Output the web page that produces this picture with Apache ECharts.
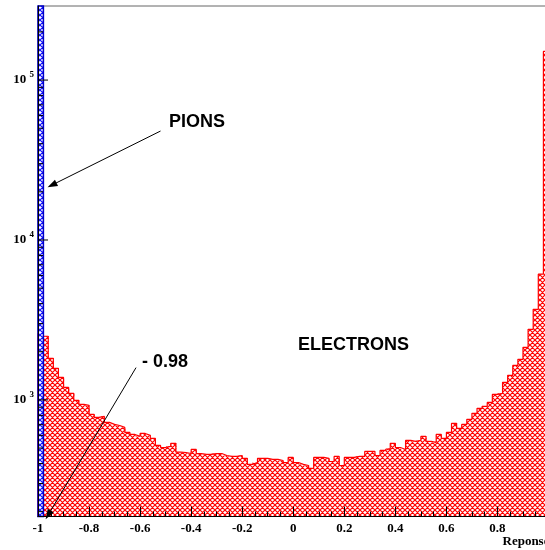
<!DOCTYPE html>
<html>
<head>
<meta charset="utf-8">
<script src="https://cdn.jsdelivr.net/npm/echarts@6/dist/echarts.min.js"></script>
<style>
html,body{margin:0;padding:0;background:#fff;}
#chart{width:545px;height:550px;}
</style>
</head>
<body>
<div id="chart"></div>
<script>
// ---- data ----
const binStart = -1;       // histogram lower edge
const binWidth = 0.02;     // 100 bins over [-1, 1]
const electronCounts = [
  2600, 2500, 1820, 1575, 1383, 1198, 1099, 993, 937, 924,
  811, 777, 788, 723, 703, 692, 673, 626, 608, 591,
  617, 600, 574, 519, 504, 512, 535, 472, 469, 462,
  490, 462, 456, 456, 462, 462, 449, 443, 443, 449,
  431, 395, 406, 431, 431, 425, 425, 418, 406, 437,
  406, 395, 389, 373, 437, 437, 431, 412, 443, 389,
  437, 437, 443, 443, 476, 476, 449, 483, 497, 535,
  504, 490, 558, 550, 558, 591, 550, 542, 608, 574,
  626, 713, 663, 703, 756, 824, 886, 912, 965, 1082,
  1099, 1288, 1424, 1644, 1794, 2133, 2763, 3686, 6110, 151000
];
const pionCounts = [1200000];  // all pions in the first bin (off scale)
const yMin = 186.6, yMax = 290500;
const xTickStep = 0.2;
const yTickValues = [200,300,400,500,600,700,800,900,
  1000,2000,3000,4000,5000,6000,7000,8000,9000,
  10000,20000,30000,40000,50000,60000,70000,80000,90000,
  100000,200000];
const pionArrow = [[-0.520, 48000], [-0.945, 22070]];
const cutArrow = [[-0.616, 1592], [-0.960, 191]];
const labels = {pions: 'PIONS', electrons: 'ELECTRONS', cut: '- 0.98', xTitle: 'Reponse'};

// ---- helpers ----
function hatch(color) {
  const c = document.createElement('canvas');
  c.width = 5; c.height = 5;
  const g = c.getContext('2d');
  g.fillStyle = '#ffffff'; g.fillRect(0, 0, 5, 5);
  g.strokeStyle = color; g.lineWidth = 1.2;
  g.beginPath();
  for (let k = -5; k <= 5; k += 5) {
    g.moveTo(k - 1, -1); g.lineTo(k + 6, 6);
    g.moveTo(k + 6, -1); g.lineTo(k - 1, 6);
  }
  g.stroke();
  return c;
}
const redPattern = {image: hatch('#ff0000'), repeat: 'repeat'};
const bluePattern = {image: hatch('#1010ff'), repeat: 'repeat'};

function binData(counts) {
  return counts.map((v, i) => [binStart + i * binWidth, binStart + (i + 1) * binWidth, v]);
}
function isPow10(v) {
  const l = Math.log10(v);
  return Math.abs(l - Math.round(l)) < 1e-6;
}
function histRender(pattern, stroke) {
  return function (params, api) {
    const v = api.value(2);
    if (!(v > 0)) return null;
    const cs = params.coordSys;
    const p0 = api.coord([api.value(0), v]);
    const p1 = api.coord([api.value(1), v]);
    const bottom = cs.y + cs.height;
    const top = Math.max(p0[1], cs.y);
    return {
      type: 'rect',
      shape: {x: p0[0], y: top, width: p1[0] - p0[0] + (stroke ? 0.3 : 0.6), height: bottom - top},
      style: stroke ? {fill: pattern, stroke: stroke, lineWidth: 1.5} : {fill: pattern}
    };
  };
}
const outline = [[binStart, yMin]];
electronCounts.forEach((v, i) => outline.push([binStart + i * binWidth, v]));
outline.push([binStart + electronCounts.length * binWidth, electronCounts[electronCounts.length - 1]]);

const serif = '"Liberation Serif", "Times New Roman", serif';
const sans = '"Liberation Sans", Arial, Helvetica, sans-serif';

const chart = echarts.init(document.getElementById('chart'), null, {renderer: 'canvas'});
chart.setOption({
  animation: false,
  backgroundColor: '#ffffff',
  grid: {left: 38, right: -3.5, top: 6, bottom: 33.5, show: true, borderColor: '#666', borderWidth: 1,
         backgroundColor: '#fff', containLabel: false, outerBoundsMode: 'none'},
  xAxis: {
    type: 'value', min: -1, max: 1, interval: xTickStep, z: 10,
    axisLine: {show: true, onZero: false, lineStyle: {color: '#000', width: 1}},
    axisTick: {show: true, inside: true, length: 10, lineStyle: {color: '#000', width: 1}},
    minorTick: {show: true, splitNumber: 4, length: 5, lineStyle: {color: '#000', width: 1}},
    splitLine: {show: false}, minorSplitLine: {show: false},
    axisLabel: {margin: 6, color: '#000', fontFamily: serif, fontWeight: 'bold', fontSize: 13,
      showMaxLabel: false,
      formatter: v => String(Math.round(v * 10) / 10)}
  },
  yAxis: {
    type: 'log', logBase: 10, min: yMin, max: yMax, z: 10,
    axisLine: {show: true, onZero: false, lineStyle: {color: '#000', width: 1}},
    axisTick: {show: false}, minorTick: {show: false},
    splitLine: {show: false},
    axisLabel: {
      margin: 4, color: '#000', showMinLabel: false, showMaxLabel: false,
      formatter: v => isPow10(v) ? '{b|10} {s|' + Math.round(Math.log10(v)) + '}' : '',
      rich: {
        b: {fontFamily: serif, fontWeight: 'bold', fontSize: 13, lineHeight: 20, color: '#000'},
        s: {fontFamily: serif, fontWeight: 'bold', fontSize: 9, lineHeight: 9, verticalAlign: 'top', color: '#000'}
      }
    }
  },
  series: [
    {
      name: 'electrons', type: 'custom', z: 2, silent: true,
      data: binData(electronCounts), encode: {x: [0, 1], y: 2},
      renderItem: histRender(redPattern, null)
    },
    {
      name: 'electrons outline', type: 'line', z: 3, silent: true, step: 'end',
      showSymbol: false, symbol: 'none', data: outline,
      lineStyle: {color: '#ff0000', width: 1.2},
      markLine: {
        silent: true, symbol: ['none', 'triangle'], symbolSize: [7, 10], animation: false,
        label: {show: false},
        lineStyle: {color: '#000', width: 1, type: 'solid'},
        emphasis: {disabled: true},
        data: [
          [{coord: pionArrow[0]}, {coord: pionArrow[1]}],
          [{coord: cutArrow[0]}, {coord: cutArrow[1]}]
        ]
      }
    },
    {
      name: 'pions', type: 'custom', z: 4, silent: true,
      data: binData(pionCounts), encode: {x: [0, 1], y: 2},
      renderItem: histRender(bluePattern, '#0000c8')
    },
    {
      name: 'y ticks', type: 'custom', z: 6, silent: true,
      data: yTickValues.map(v => [-1, v]), encode: {x: 0, y: 1},
      renderItem: function (params, api) {
        const v = api.value(1);
        const p = api.coord([api.value(0), v]);
        const len = isPow10(v) ? 10 : 5;
        return {type: 'line', shape: {x1: p[0], y1: p[1], x2: p[0] + len, y2: p[1]},
                style: {stroke: '#000', lineWidth: 1}};
      }
    }
  ],
  graphic: [
    {type: 'text', x: 169, y: 122, z: 20, style: {text: labels.pions, font: 'bold 18px ' + sans, fill: '#000', align: 'left', verticalAlign: 'middle'}},
    {type: 'text', x: 298, y: 345, z: 20, style: {text: labels.electrons, font: 'bold 18px ' + sans, fill: '#000', align: 'left', verticalAlign: 'middle'}},
    {type: 'text', x: 142, y: 362, z: 20, style: {text: labels.cut, font: 'bold 18px ' + sans, fill: '#000', align: 'left', verticalAlign: 'middle'}},
    {type: 'text', x: 502.5, y: 541.5, z: 20, style: {text: labels.xTitle, font: 'bold 13px ' + serif, fill: '#000', align: 'left', verticalAlign: 'middle'}}
  ]
});
</script>
</body>
</html>
